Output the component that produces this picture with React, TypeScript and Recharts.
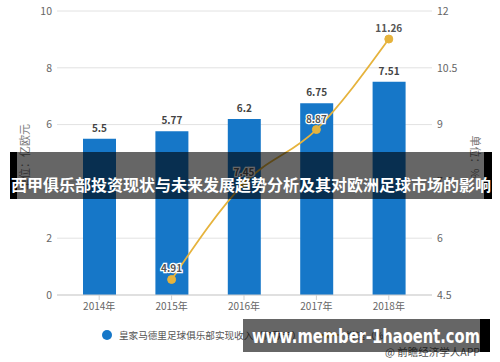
import React from 'react';
import { ComposedChart, Bar, Line, XAxis, YAxis, CartesianGrid, LabelList } from 'recharts';

const years = ['2014年', '2015年', '2016年', '2017年', '2018年'];
const revenue = [5.5, 5.77, 6.2, 6.75, 7.51];
const growth: (number | null)[] = [null, 4.91, 7.45, 8.87, 11.26];
const leftTicks = [0, 2, 4, 6, 8, 10];
const rightTicks = [4.5, 6, 7.5, 9, 10.5, 12];

const revenueName = '皇家马德里足球俱乐部实现收入（亿欧元）';
const growthName = '增速（%）';
const leftUnit = '单位：亿欧元';
const rightUnit = '单位：%';
const bannerTitle = '西甲俱乐部投资现状与未来发展趋势分析及其对欧洲足球市场的影响';
const siteText = 'www.member-1haoent.com';
const sourceText = '@ 前瞻经济学人APP';

const data = years.map((y, i) => ({ year: y, revenue: revenue[i], growth: growth[i] }));

const FONT = '"Noto Sans CJK SC", "Microsoft YaHei", sans-serif';
const BLUE = '#1677c8';
const GOLD = '#e6b33c';

const LineLabel = (props: any) => {
  const { x, y, value } = props;
  if (value == null) return null;
  return (
    <text
      x={x}
      y={y - 7}
      textAnchor="middle"
      fontSize={10}
      fontWeight="bold"
      fontFamily={FONT}
      fill="#555"
      stroke="#fff"
      strokeWidth={2.5}
      paintOrder="stroke"
    >
      {value}
    </text>
  );
};

export default function App() {
  return (
    <div style={{ position: 'absolute', left: 0, top: 0, width: 500, height: 362, background: '#fff', fontFamily: FONT }}>
      <ComposedChart
        width={500}
        height={362}
        data={data}
        margin={{ top: 11, right: 0, left: 0, bottom: 42 }}
        style={{ fontFamily: FONT }}
      >
        <CartesianGrid yAxisId="left" vertical={false} stroke="#e2e2e2" />
        <XAxis
          dataKey="year"
          height={25}
          padding={{ left: 6, right: 7 }}
          tick={{ fontSize: 10, fill: '#666' }}
          tickSize={5}
          tickMargin={3}
          stroke="#cfcfcf"
        />
        <YAxis
          yAxisId="left"
          width={57}
          domain={[0, 10]}
          ticks={leftTicks}
          axisLine={false}
          tickLine={false}
          tickSize={5}
          tickMargin={0}
          tick={{ fontSize: 10.5, fill: '#666' }}
          label={(p: any) => {
            const vb = p.viewBox || {};
            const cx = 26;
            const cy = (vb.y ?? 11) + (vb.height ?? 284) / 2 + 4;
            return (
              <text x={cx} y={cy} transform={`rotate(-90 ${cx} ${cy})`} textAnchor="middle" dominantBaseline="middle" fontSize={11} fill="#777" fontFamily={FONT}>
                {leftUnit}
              </text>
            );
          }}
        />
        <YAxis
          yAxisId="right"
          orientation="right"
          width={68}
          domain={[4.5, 12]}
          ticks={rightTicks}
          axisLine={false}
          tickLine={false}
          tickSize={5}
          tickMargin={0}
          tick={{ fontSize: 10.5, fill: '#666' }}
          label={(p: any) => {
            const vb = p.viewBox || {};
            const cx = 474;
            const cy = (vb.y ?? 11) + (vb.height ?? 284) / 2 + 4;
            return (
              <text x={cx} y={cy} transform={`rotate(90 ${cx} ${cy})`} textAnchor="middle" dominantBaseline="middle" fontSize={11} fill="#777" fontFamily={FONT}>
                {rightUnit}
              </text>
            );
          }}
        />
        <Bar yAxisId="left" dataKey="revenue" name={revenueName} fill={BLUE} barSize={33} isAnimationActive={false}>
          <LabelList dataKey="revenue" position="top" offset={7} fontSize={10} fontWeight="bold" fill="#444" fontFamily={FONT} />
        </Bar>
        <Line
          yAxisId="right"
          dataKey="growth"
          name={growthName}
          type="monotone"
          stroke={GOLD}
          strokeWidth={1.8}
          dot={{ r: 4, fill: GOLD, stroke: GOLD, strokeWidth: 1 }}
          isAnimationActive={false}
        >
          <LabelList dataKey="growth" content={LineLabel} />
        </Line>
      </ComposedChart>

      {/* legend */}
      <svg width={500} height={362} style={{ position: 'absolute', left: 0, top: 0, pointerEvents: 'none' }}>
        <circle cx={107} cy={335} r={5} fill={BLUE} />
        <text x={119} y={339} fontSize={9.6} fill="#555" fontFamily={FONT}>{revenueName}</text>
        <line x1={318} y1={335} x2={340} y2={335} stroke={GOLD} strokeWidth={2} />
        <circle cx={329} cy={335} r={3.5} fill={GOLD} />
        <text x={346} y={339} fontSize={9.6} fill="#555" fontFamily={FONT}>{growthName}</text>
        <text x={385} y={356} fontSize={10.5} fill="#555" fontFamily={FONT}>{sourceText}</text>

        {/* title banner */}
        <rect x={10} y={152} width={482} height={47} fill="rgba(0,0,0,0.6)" />
        <rect x={10} y={152} width={7} height={47} fill="#000" />
        <rect x={484} y={152} width={8} height={47} fill="#000" />
        <text x={251} y={191} textAnchor="middle" fontSize={15.5} fontWeight="bold" fill="#fff" fontFamily={FONT} textLength={480} lengthAdjust="spacingAndGlyphs">
          {bannerTitle}
        </text>

        {/* site banner */}
        <rect x={243} y={319} width={247} height={33} fill="rgba(0,0,0,0.6)" />
        <rect x={480} y={319} width={10} height={33} fill="#000" />
        <text x={252} y={343} fontSize={20} fontWeight="bold" fill="#fff" fontFamily='"DejaVu Sans", sans-serif' textLength={228} lengthAdjust="spacingAndGlyphs">
          {siteText}
        </text>
      </svg>
    </div>
  );
}
